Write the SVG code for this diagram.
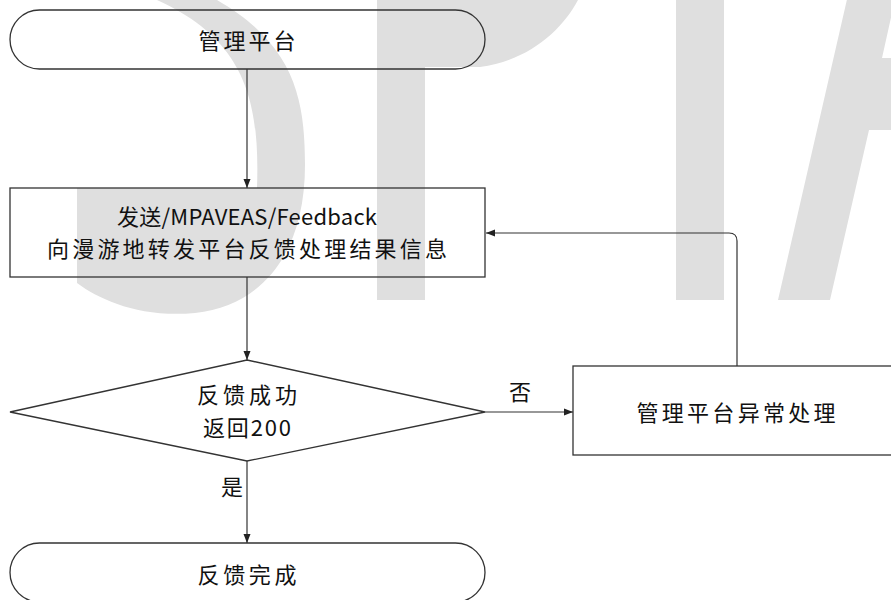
<svg xmlns="http://www.w3.org/2000/svg" width="891" height="600" viewBox="0 0 891 600">
<defs>
<style>
.wm{fill:#dfdfdf;stroke:none}
.box{fill:none;stroke:#333;stroke-width:1.3}
.ln{fill:none;stroke:#333;stroke-width:1.2}
.t{font-family:"Noto Sans CJK SC","Noto Sans",sans-serif;font-size:22px;fill:#111;text-anchor:middle;dominant-baseline:central}
</style>
<marker id="arr" markerWidth="10" markerHeight="8" refX="9" refY="4" orient="auto" markerUnits="userSpaceOnUse">
<path d="M0,0.5 L9,4 L0,7.5 z" fill="#222"/>
</marker>
</defs>
<rect x="0" y="0" width="891" height="600" fill="#fff"/>
<g id="watermark">
<path class="wm" d="M157,-5 L212,-5 L217,0 C295,45 305,100 305,165 C305,250 265,305 195,313 C140,318 100,300 77,283 L77,188 L257,188 C260,100 245,40 157,0 Z"/>
<rect class="wm" x="377" y="-5" width="48" height="305"/>
<path class="wm" d="M425,-5 L581,-5 L578,0 C562,30 530,60 480,67 L425,67 Z"/>
<rect class="wm" x="676" y="-5" width="48" height="305"/>
<polygon class="wm" points="778,300 830,300 869,130 895,130 895,58 882,58 896,-5 848,-5"/>
</g>
<g id="connectors">
<path class="ln" d="M247,69 L247,188" marker-end="url(#arr)"/>
<path class="ln" d="M247,277 L247,360" marker-end="url(#arr)"/>
<path class="ln" d="M485,412 L573,412" marker-end="url(#arr)"/>
<path class="ln" d="M247,461 L247,543" marker-end="url(#arr)"/>
<path class="ln" d="M737,366 L737,241 Q737,233 729,233 L486,233" marker-end="url(#arr)"/>
<text class="t" x="520" y="390">否</text>
<text class="t" x="232" y="485">是</text>
</g>
<g id="start">
<rect class="box" x="10" y="10" width="475" height="59" rx="29.5" ry="29.5"/>
<text class="t" x="247" y="39" textLength="97" lengthAdjust="spacing">管理平台</text>
</g>
<g id="send">
<rect class="box" x="10" y="188" width="475" height="89"/>
<text class="t" x="247" y="215" textLength="260" lengthAdjust="spacing">发送/MPAVEAS/Feedback</text>
<text class="t" x="247" y="247" textLength="400" lengthAdjust="spacing">向漫游地转发平台反馈处理结果信息</text>
</g>
<g id="decision">
<polygon class="box" points="247,360 485,412 247,461 10,412"/>
<text class="t" x="247" y="393" textLength="100" lengthAdjust="spacing">反馈成功</text>
<text class="t" x="247" y="426" textLength="88" lengthAdjust="spacing">返回200</text>
</g>
<g id="error">
<rect class="box" x="573" y="366" width="330" height="89"/>
<text class="t" x="736" y="411" textLength="199" lengthAdjust="spacing">管理平台异常处理</text>
</g>
<g id="end">
<rect class="box" x="10" y="543" width="475" height="59" rx="29.5" ry="29.5"/>
<text class="t" x="247" y="573" textLength="99" lengthAdjust="spacing">反馈完成</text>
</g>
</svg>
